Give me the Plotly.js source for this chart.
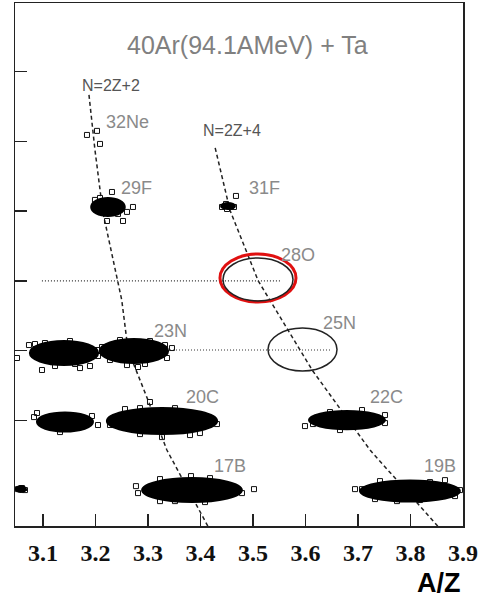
<!DOCTYPE html>
<html><head><meta charset="utf-8">
<script src="https://cdn.plot.ly/plotly-3.0.1.min.js"></script>
<style>html,body{margin:0;padding:0;background:#fff}#chart{width:481px;height:597px}</style>
</head><body><div id="chart"></div>
<script>
// ---- axis ticks ----
const xTicks = [3.1, 3.2, 3.3, 3.4, 3.5, 3.6, 3.7, 3.8, 3.9];
const xTickLabels = ['3.1', '3.2', '3.3', '3.4', '3.5', '3.6', '3.7', '3.8', '3.9'];
const yTicks = [5, 6, 7, 8, 9, 10, 11];

// ---- dense event clusters (centre A/Z, centre row, half-width, half-height) ----
const clusterX = [3.2238, 3.4524, 3.140, 3.2733, 3.1419, 3.3267, 3.679, 3.3838, 3.799, 3.058];
const clusterY = [9.060, 9.075, 6.966, 6.994, 5.976, 5.990, 6.004, 5.000, 4.986, 5.014];
const clusterHalfW = [0.032, 0.0133, 0.065, 0.065, 0.0533, 0.105, 0.0724, 0.095, 0.095, 0.0095];
const clusterHalfH = [0.13, 0.043, 0.172, 0.172, 0.136, 0.187, 0.13, 0.172, 0.15, 0.043];

// ---- individual events (open squares) ----
const eventX = [
  3.1838, 3.2029, 3.2086,
  3.2314, 3.2714, 3.260, 3.2219, 3.2524, 3.2429, 3.199, 3.2086,
  3.441, 3.4486, 3.4581, 3.4638, 3.4505, 3.4676,
  3.0505, 3.0733, 3.0981, 3.1705, 3.1895, 3.2048, 3.2029, 3.0848, 3.1038, 3.1514, 3.1229, 3.161,
  3.3457, 3.3362, 3.260, 3.281, 3.2124, 3.3324, 3.2276, 3.2467, 3.3038, 3.2943,
  3.0829, 3.0886, 3.1324, 3.2048, 3.1933, 3.1705,
  3.3038, 3.2848, 3.2276, 3.4314, 3.3267, 3.3705, 3.399, 3.2371, 3.2562, 3.3514, 3.380, 3.2848,
  3.599, 3.6143, 3.7514, 3.7076, 3.7514, 3.6657, 3.6467, 3.6943,
  3.2771, 3.281, 3.3819, 3.5019, 3.4581, 3.479, 3.3514, 3.4562, 3.441, 3.3229, 3.4181, 3.4086, 3.3229,
  3.6943, 3.7076, 3.8657, 3.8848, 3.7743, 3.8943, 3.7419, 3.8371, 3.8181, 3.7324,
  3.0524, 3.060, 3.0657
];
const eventY = [
  10.093, 10.151, 9.964,
  9.275, 9.060, 8.989, 8.859, 8.859, 8.960, 9.161, 9.189,
  9.060, 9.103, 9.060, 9.060, 9.031, 9.218,
  6.894, 7.080, 6.722, 6.750, 6.779, 6.923, 7.009, 7.095, 7.109, 7.138, 6.779, 6.808,
  7.037, 6.894, 6.793, 6.765, 7.052, 7.080, 6.865, 7.152, 7.138, 6.808,
  6.047, 6.105, 5.832, 5.933, 6.062, 6.004,
  6.263, 6.176, 5.933, 5.947, 5.760, 6.119, 5.818, 6.033, 6.162, 6.176, 5.789, 5.803,
  5.918, 5.947, 6.076, 6.148, 5.961, 5.861, 6.119, 5.918,
  5.057, 4.957, 5.201, 5.014, 4.943, 4.957, 4.842, 5.043, 4.900, 5.158, 5.172, 4.828, 4.842,
  5.014, 5.014, 5.143, 4.914, 4.842, 5.000, 5.129, 5.115, 4.857, 4.871,
  5.014, 5.029, 5.000
];

// ---- isotone guide lines ----
const lineAX = [3.1876, 3.199, 3.214, 3.243, 3.250, 3.262, 3.300, 3.336, 3.414];
const lineAY = [10.667, 9.878, 8.989, 7.999, 7.726, 7.009, 6.291, 5.574, 4.483];
const lineBX = [3.428, 3.456, 3.510, 3.532, 3.590, 3.614, 3.723, 3.852];
const lineBY = [9.907, 9.017, 7.999, 7.726, 7.009, 6.707, 5.574, 4.483];

// ---- dotted level lines ----
const dotAX = [3.098, 3.5533], dotAY = [8.0, 8.0];
const dotBX = [3.3419, 3.6505], dotBY = [7.009, 7.009];

// ---- marked ellipses (x0, x1, y0, y1) ----
const ringX0 = [3.4371, 3.4429, 3.5286];
const ringX1 = [3.5819, 3.5762, 3.660];
const ringY0 = [7.697, 7.712, 6.707];
const ringY1 = [8.386, 8.329, 7.324];
const ringColor = ['#e01010', '#222', '#222'];
const ringWidth = [3, 1.5, 1.5];

// ---- labels ----
const isoText = ['32Ne', '29F', '31F', '28O', '25N', '23N', '20C', '22C', '17B', '19B'];
const isoX = [3.2619, 3.279, 3.521, 3.5857, 3.6657, 3.3438, 3.4029, 3.7552, 3.4562, 3.8562];
const isoY = [10.280, 9.333, 9.333, 8.372, 7.396, 7.281, 6.334, 6.334, 5.344, 5.344];
const lineLabelText = ['N=2Z+2', 'N=2Z+4'];
const lineLabelX = [3.2295, 3.46];
const lineLabelY = [10.796, 10.151];
const titleText = '40Ar(94.1AMeV) + Ta';
const titleX = 3.4886, titleY = 11.385;
const xTitleText = 'A/Z';

const dashStyle = {color: '#222', width: 1.5, dash: '4px,3px'};
const dotStyle = {color: '#333', width: 1.2, dash: '1px,2px'};

const traces = [
  {x: lineAX, y: lineAY, mode: 'lines', line: dashStyle, hoverinfo: 'skip'},
  {x: lineBX, y: lineBY, mode: 'lines', line: dashStyle, hoverinfo: 'skip'},
  {x: dotAX, y: dotAY, mode: 'lines', line: dotStyle, hoverinfo: 'skip'},
  {x: dotBX, y: dotBY, mode: 'lines', line: dotStyle, hoverinfo: 'skip'},
  {x: eventX, y: eventY, mode: 'markers', type: 'scatter',
   marker: {symbol: 'square-open', size: 5, color: '#111', line: {width: 1, color: '#111'}}}
];

const shapes = [];
for (let i = 0; i < clusterX.length; i++) {
  shapes.push({type: 'circle', xref: 'x', yref: 'y',
    x0: clusterX[i] - clusterHalfW[i], x1: clusterX[i] + clusterHalfW[i],
    y0: clusterY[i] - clusterHalfH[i], y1: clusterY[i] + clusterHalfH[i],
    fillcolor: '#000', line: {color: '#000', width: 2}, layer: 'above'});
}
for (let i = 0; i < ringX0.length; i++) {
  shapes.push({type: 'circle', xref: 'x', yref: 'y',
    x0: ringX0[i], x1: ringX1[i], y0: ringY0[i], y1: ringY1[i],
    line: {color: ringColor[i], width: ringWidth[i]}, layer: 'above'});
}

const annotations = [];
for (let i = 0; i < isoText.length; i++) {
  annotations.push({x: isoX[i], y: isoY[i], xref: 'x', yref: 'y', text: isoText[i], showarrow: false,
    font: {family: 'Liberation Sans, Arial, sans-serif', size: 18, color: '#8a8a8a'}});
}
for (let i = 0; i < lineLabelText.length; i++) {
  annotations.push({x: lineLabelX[i], y: lineLabelY[i], xref: 'x', yref: 'y', text: lineLabelText[i], showarrow: false,
    font: {family: 'Liberation Sans, Arial, sans-serif', size: 16, color: '#555'}});
}
annotations.push({x: titleX, y: titleY, xref: 'x', yref: 'y', text: titleText, showarrow: false,
  font: {family: 'Liberation Sans, Arial, sans-serif', size: 25, color: '#808080'}});
annotations.push({x: 1, y: 0, xref: 'paper', yref: 'paper', xanchor: 'right', yanchor: 'middle', yshift: -57,
  text: '<b>' + xTitleText + '</b>', showarrow: false,
  font: {family: 'Liberation Sans, Arial, sans-serif', size: 27, color: '#000'}});

const layout = {
  width: 481, height: 597,
  margin: {l: 15, r: 18, t: 3, b: 71, pad: 0},
  paper_bgcolor: '#fff', plot_bgcolor: '#fff',
  showlegend: false,
  xaxis: {range: [3.0467, 3.9], tickvals: xTicks, ticktext: xTickLabels,
    ticks: 'inside', ticklen: 12, tickwidth: 1.5, tickcolor: '#222',
    showline: true, mirror: true, linecolor: '#222', linewidth: 1.5,
    showgrid: false, zeroline: false, ticklabelstandoff: 5,
    tickfont: {family: 'Liberation Serif, Times New Roman, serif', size: 24, color: '#111', weight: 'bold'}},
  yaxis: {range: [4.485, 11.985], tickvals: yTicks, showticklabels: false,
    ticks: 'inside', ticklen: 12, tickwidth: 1.5, tickcolor: '#222',
    showline: true, mirror: true, linecolor: '#222', linewidth: 1.5,
    showgrid: false, zeroline: false},
  shapes: shapes,
  annotations: annotations
};

Plotly.newPlot('chart', traces, layout, {displayModeBar: false, staticPlot: true});
</script>
</body></html>
